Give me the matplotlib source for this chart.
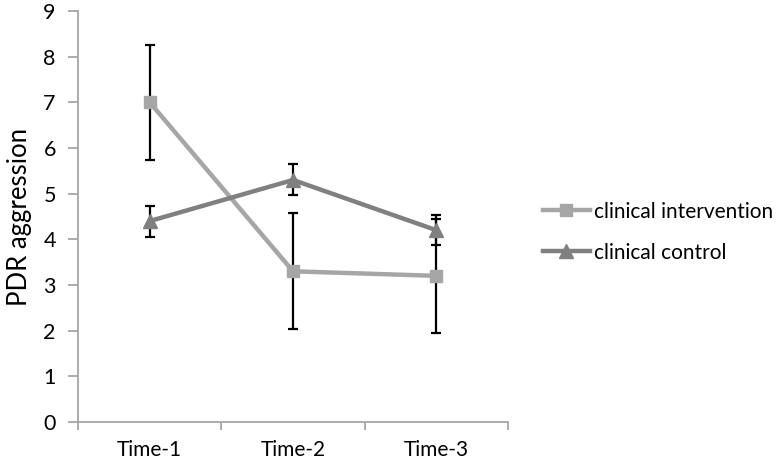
import matplotlib.pyplot as plt
import numpy as np

plt.rcParams['font.family'] = ['Lato', 'DejaVu Sans']

times = ['Time-1', 'Time-2', 'Time-3']
intervention = [7.0, 3.3, 3.2]
intervention_err = [1.26, 1.27, 1.25]
control = [4.4, 5.3, 4.2]
control_err = [0.34, 0.34, 0.33]

fig = plt.figure(figsize=(7.78, 4.62), dpi=100)
ax = fig.add_axes([0.1003, 0.0866, 0.5527, 0.8896])

x = np.arange(len(times))
axis_col = '#a6a6a6'

# error bars first so markers sit on top
ax.errorbar(x, intervention, yerr=intervention_err, fmt='none', ecolor='black',
            elinewidth=1.6, capsize=3.6, capthick=1.6, zorder=2)
ax.errorbar(x, control, yerr=control_err, fmt='none', ecolor='black',
            elinewidth=1.6, capsize=3.6, capthick=1.6, zorder=2)

ax.plot(x, intervention, color='#a6a6a6', linewidth=3.2, marker='s',
        markersize=9, label='clinical intervention', zorder=3)
ax.plot(x, control, color='#808080', linewidth=3.2, marker='^',
        markersize=9.5, label='clinical control', zorder=3)

ax.set_xlim(-0.5, 2.5)
ax.set_ylim(0, 9)
ax.set_yticks(range(0, 10))
ax.set_xticks([-0.5, 0.5, 1.5, 2.5])
ax.set_xticklabels([])
ax.set_xticks(x, minor=True)
ax.set_xticklabels(times, minor=True, fontsize=15)
ax.tick_params(axis='x', which='minor', length=0, pad=13)
ax.tick_params(axis='x', which='major', length=6, color=axis_col, width=1.3)
ax.tick_params(axis='y', length=7, color=axis_col, width=1.3, labelsize=15.5, pad=9)

for side in ['top', 'right']:
    ax.spines[side].set_visible(False)
for side in ['left', 'bottom']:
    ax.spines[side].set_color(axis_col)
    ax.spines[side].set_linewidth(1.3)

ax.set_ylabel('PDR aggression', fontsize=18.5, labelpad=8)

ax.legend(loc='center left', bbox_to_anchor=(1.081, 0.462), frameon=False,
          fontsize=15, handlelength=2.25, handletextpad=0.2, labelspacing=1.0,
          borderpad=0, borderaxespad=0)

fig.savefig('out.png', dpi=100)
